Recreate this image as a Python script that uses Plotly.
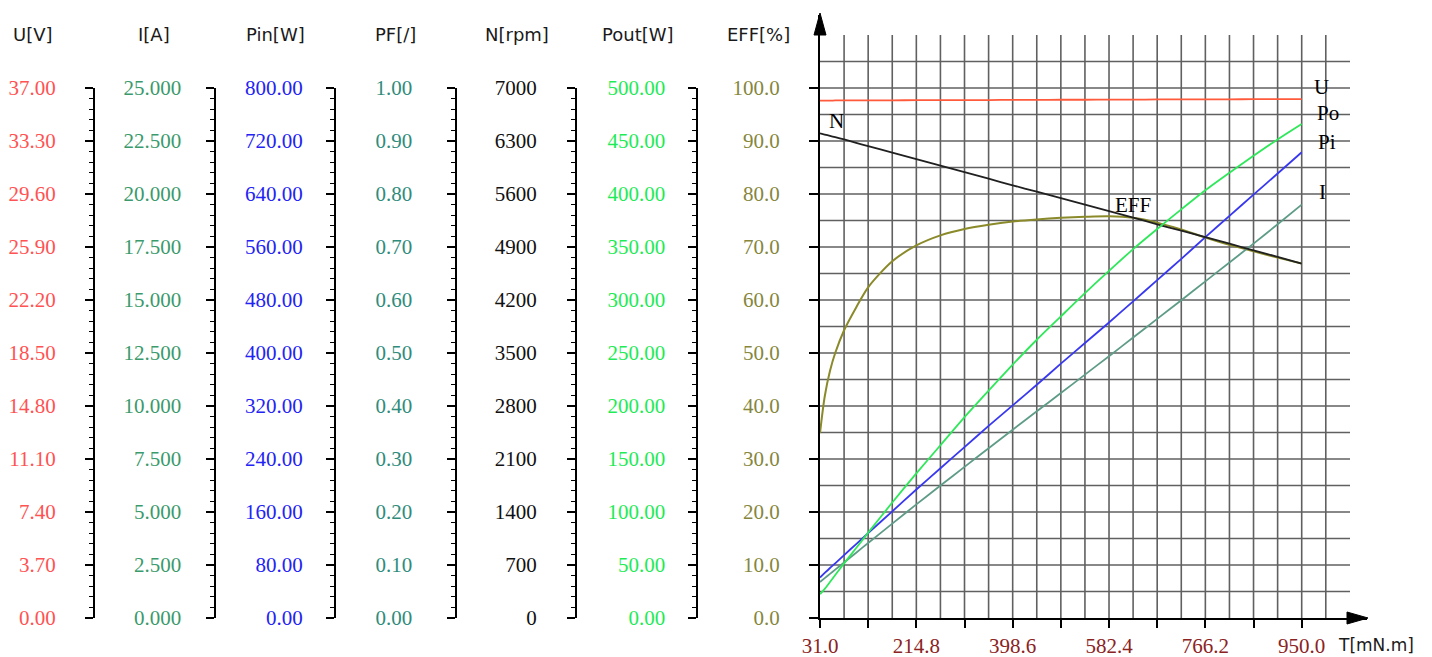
import plotly.graph_objects as go

# ---------------- data ----------------
torque_mNm = [31.0, 40.0, 50.0, 60.0, 77.0, 100.0, 122.9, 168.9, 214.8, 260.8, 306.7, 352.7,
              398.6, 444.6, 490.5, 536.5, 582.4, 628.4, 674.3, 720.3, 766.2, 812.2, 858.1, 904.1, 950.0]
voltage_V = [36.12, 36.12, 36.12, 36.13, 36.13, 36.13, 36.14, 36.14, 36.15, 36.15, 36.16, 36.16,
             36.17, 36.17, 36.18, 36.18, 36.19, 36.19, 36.20, 36.20, 36.21, 36.21, 36.22, 36.22, 36.23]
current_A = [1.70, 1.88, 2.08, 2.28, 2.62, 3.08, 3.54, 4.45, 5.36, 6.25, 7.13, 8.01,
             8.88, 9.75, 10.61, 11.48, 12.35, 13.23, 14.11, 14.99, 15.88, 16.77, 17.66, 18.57, 19.50]
power_in_W = [61.0, 68.0, 75.5, 82.5, 95.0, 111.5, 128.0, 161.0, 194.0, 226.0, 258.0, 290.0,
              321.0, 352.0, 384.0, 415.0, 446.0, 478.0, 510.0, 542.0, 575.0, 607.0, 639.0, 671.0, 703.0]
speed_rpm = [6400, 6385, 6368, 6350, 6320, 6275, 6232, 6148, 6060, 5975, 5890, 5802,
             5715, 5630, 5545, 5460, 5375, 5288, 5200, 5115, 5030, 4943, 4856, 4770, 4680]
power_out_W = [22.5, 27.5, 34.0, 40.5, 51.5, 66.0, 80.5, 109.0, 136.5, 163.0, 189.5, 214.5,
               239.0, 262.5, 284.5, 306.5, 327.5, 348.0, 367.0, 385.5, 403.5, 420.0, 436.0, 451.5, 466.0]
efficiency_pct = [34.9, 41.8, 46.6, 50.0, 54.3, 58.6, 62.4, 67.3, 70.3, 72.2, 73.4, 74.2,
                  74.8, 75.2, 75.5, 75.7, 75.8, 75.5, 74.6, 73.3, 71.8, 70.4, 69.2, 68.0, 66.9]

axis_titles = ["U[V]", "I[A]", "Pin[W]", "PF[/]", "N[rpm]", "Pout[W]", "EFF[%]"]
axis_max = [37.0, 25.0, 800.0, 1.0, 7000.0, 500.0, 100.0]
axis_formats = [".2f", ".3f", ".2f", ".2f", ".0f", ".2f", ".1f"]
axis_colors = ["#FF5252", "#3A9A6C", "#2323F5", "#2F8C7C", "#111111", "#1EEB55", "#86863C"]
x_tick_labels = ["31.0", "214.8", "398.6", "582.4", "766.2", "950.0"]
x_title = "T[mN.m]"
curve_tags = ["U", "Po", "Pi", "I", "N", "EFF"]

# ---------------- geometry (page pixels; the page body has an 8px margin) ----------------
PAGE_OFF = 8
W, H = 1432 - PAGE_OFF, 657 - PAGE_OFF
PLOT_L, PLOT_R = 820, 1367
PLOT_B, PLOT_T = 618, 15
SCALE_TOP = 88
T0, T1 = 31.0, 950.0
PX_PER_T = (1301.7 - PLOT_L) / (T1 - T0)
PX_PER_PCT = (PLOT_B - SCALE_TOP) / 100.0
X_RANGE = [T0, T0 + (PLOT_R - PLOT_L) / PX_PER_T]
Y_RANGE = [0, (PLOT_B - PLOT_T) / PX_PER_PCT]
GRID_DT = (T1 - T0) / 20
AXIS_X = [94, 214.5, 335, 455.5, 576, 696.5, PLOT_L]
LABEL_CX = [33, 153.5, 275, 395, 516.5, 638, 758]
TITLE_Y = 35
NUM_FONT = "Liberation Serif"
NUM_SIZE = 21
SANS = "DejaVu Sans"
GRID_COLOR = "#606060"


def fx(p):
    return (p - PAGE_OFF) / W


def fy(p):
    return 1 - (p - PAGE_OFF) / H


def label_width(s):
    return sum(0.25 if c == "." else 0.5 for c in s) * NUM_SIZE


fig = go.Figure()

# ---------------- axes ----------------
layout_axes = {}
for i in range(7):
    mx = axis_max[i]
    vals = [mx * k / 10 for k in range(11)]
    wtxt = max((format(v, axis_formats[i]) for v in vals), key=label_width)
    ticklen = 9 if i == 6 else 8
    standoff = (AXIS_X[i] - ticklen) - (LABEL_CX[i] + label_width(wtxt) / 2) - 4
    common = dict(
        showline=True, linecolor="black", linewidth=2,
        ticks="outside", ticklen=ticklen, tickwidth=1.5, tickcolor="black",
        tickmode="array", tickvals=vals, tickformat=axis_formats[i],
        tickfont=dict(family=NUM_FONT, size=NUM_SIZE, color=axis_colors[i]),
        showgrid=False, zeroline=False, fixedrange=True, automargin=False,
        ticklabelstandoff=max(0, round(standoff)),
    )
    if i == 6:
        layout_axes["yaxis"] = dict(domain=[fy(PLOT_B), fy(PLOT_T)], range=Y_RANGE,
                                    anchor="x", **common)
    else:
        common.update(minor=dict(ticks="outside", ticklen=4, tickwidth=1.2, tickcolor="black",
                                 tickmode="linear", tick0=0, dtick=mx / 50, showgrid=False))
        layout_axes[f"yaxis{i + 2}"] = dict(domain=[fy(PLOT_B), fy(SCALE_TOP)], range=[0, mx],
                                           anchor="free", position=fx(AXIS_X[i]), side="left",
                                           **common)

x_tickvals = [T0 + k * 2 * GRID_DT for k in range(11)]
x_ticktext = [x_tick_labels[k // 2] if k % 2 == 0 else "" for k in range(11)]
layout_axes["xaxis"] = dict(
    domain=[fx(PLOT_L), fx(PLOT_R)], range=X_RANGE, anchor="y",
    showline=True, linecolor="black", linewidth=2,
    ticks="outside", ticklen=8, tickwidth=1.5, tickcolor="black",
    tickmode="array", tickvals=x_tickvals, ticktext=x_ticktext,
    tickfont=dict(family=NUM_FONT, size=NUM_SIZE, color="#8B2323"),
    showgrid=False, zeroline=False, fixedrange=True, automargin=False, ticklabelstandoff=0,
)

# ---------------- curves ----------------
series = [
    (voltage_V, "y2", "#FF5A3C"),
    (current_A, "y3", "#5E9C88"),
    (power_in_W, "y4", "#3838F0"),
    ([], "y5", "#2F8C7C"),
    (speed_rpm, "y6", "#202020"),
    (power_out_W, "y7", "#2EE85A"),
]
fig.add_trace(go.Scatter(x=torque_mNm, y=efficiency_pct, mode="lines", yaxis="y", xaxis="x",
                         line=dict(color="#8A8A2A", width=2, shape="spline", smoothing=0.8),
                         showlegend=False, hoverinfo="skip"))
for ys, ax, col in series:
    fig.add_trace(go.Scatter(x=torque_mNm if ys else [], y=ys, mode="lines", yaxis=ax, xaxis="x",
                             line=dict(color=col, width=1.8, shape="spline", smoothing=0.6),
                             showlegend=False, hoverinfo="skip"))

# ---------------- grid ----------------
shapes = []
for k in range(1, 22):
    xv = T0 + k * GRID_DT
    shapes.append(dict(type="line", xref="x", yref="y", x0=xv, x1=xv, y0=0, y1=110,
                       line=dict(color=GRID_COLOR, width=1.6), layer="below"))
x_h_end = T0 + (1350 - PLOT_L) / PX_PER_T
for v in range(5, 110, 5):
    shapes.append(dict(type="line", xref="x", yref="y", x0=T0, x1=x_h_end, y0=v, y1=v,
                       line=dict(color=GRID_COLOR, width=1.6), layer="below"))
# axis arrow heads
shapes.append(dict(type="path", xref="paper", yref="paper",
                   path=f"M {fx(PLOT_L)},{fy(PLOT_T - 2)} L {fx(PLOT_L - 6)},{fy(PLOT_T + 20)} "
                        f"L {fx(PLOT_L + 6)},{fy(PLOT_T + 20)} Z",
                   fillcolor="black", line=dict(color="black", width=1)))
shapes.append(dict(type="path", xref="paper", yref="paper",
                   path=f"M {fx(PLOT_R + 1)},{fy(PLOT_B)} L {fx(PLOT_R - 20)},{fy(PLOT_B - 6)} "
                        f"L {fx(PLOT_R - 20)},{fy(PLOT_B + 6)} Z",
                   fillcolor="black", line=dict(color="black", width=1)))

# ---------------- text ----------------
annotations = []
for i, t in enumerate(axis_titles):
    annotations.append(dict(text=t, xref="paper", yref="paper", x=fx(LABEL_CX[i]), y=fy(TITLE_Y),
                            xanchor="center", yanchor="middle", showarrow=False,
                            font=dict(family=SANS, size=18, color="#1a1a1a")))
annotations.append(dict(text=x_title, xref="paper", yref="paper", x=fx(1336), y=fy(645),
                        xanchor="left", yanchor="middle", showarrow=False,
                        font=dict(family=SANS, size=17, color="#1a1a1a")))
tag_pos = [(987, 100.2), (1000, 95.3), (999, 89.8), (989, 80.4), (63, 93.8), (628, 77.9)]
for tag, (tx, ty) in zip(curve_tags, tag_pos):
    annotations.append(dict(text=tag, xref="x", yref="y", x=tx, y=ty, xanchor="center",
                            yanchor="middle", showarrow=False,
                            font=dict(family=NUM_FONT, size=21, color="black")))

fig.update_layout(
    width=W, height=H, margin=dict(l=0, r=0, t=0, b=0, pad=0, autoexpand=False),
    paper_bgcolor="white", plot_bgcolor="rgba(0,0,0,0)",
    shapes=shapes, annotations=annotations, showlegend=False,
    **layout_axes,
)

fig.write_html("out.html")
